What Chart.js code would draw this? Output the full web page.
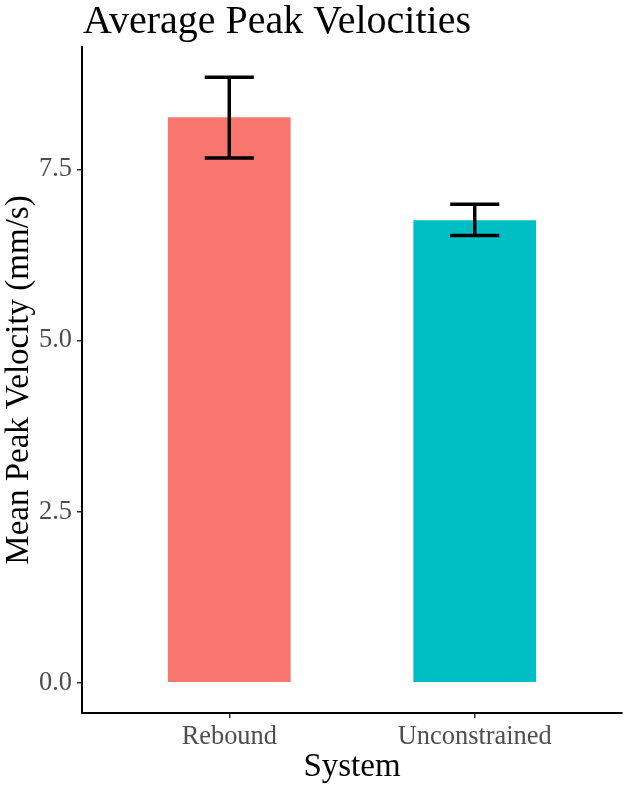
<!DOCTYPE html>
<html>
<head>
<meta charset="utf-8">
<script src="https://cdn.jsdelivr.net/npm/chart.js@4"></script>
<style>
  html, body { margin: 0; padding: 0; background: #fff; }
  #wrap { width: 625px; height: 788px; }
</style>
</head>
<body>
<div id="wrap"><canvas id="velocity-chart" width="625" height="788"></canvas></div>
<script>
const systems = ['Rebound', 'Unconstrained'];
const meanVelocity = [8.26, 6.755];
const errLower = [7.665, 6.535];
const errUpper = [8.845, 6.99];
const yTicks = [0, 2.5, 5, 7.5];
const barColors = ['#F8766D', '#00BFC4'];

const serif = '"Liberation Serif", "Times New Roman", serif';

// ggplot style expansion: 5% on y, 0.6 units on discrete x
const yMax = Math.max(...errUpper);
const yPad = yMax * 0.05;

const errorBars = {
    id: 'errorBars',
    afterDatasetsDraw(chart) {
        const ctx = chart.ctx;
        const x = chart.scales.x;
        const y = chart.scales.y;
        ctx.save();
        ctx.strokeStyle = '#000';
        ctx.lineWidth = 3.5;
        ctx.lineCap = 'butt';
        systems.forEach((s, i) => {
            const cx = x.getPixelForValue(i + 1);
            const l = x.getPixelForValue(i + 1 - 0.1);
            const r = x.getPixelForValue(i + 1 + 0.1);
            const top = y.getPixelForValue(errUpper[i]);
            const bot = y.getPixelForValue(errLower[i]);
            ctx.beginPath();
            ctx.moveTo(cx, top); ctx.lineTo(cx, bot);
            ctx.moveTo(l, top); ctx.lineTo(r, top);
            ctx.moveTo(l, bot); ctx.lineTo(r, bot);
            ctx.stroke();
        });
        ctx.restore();
    }
};

const plotTitle = {
    id: 'plotTitle',
    afterDraw(chart) {
        const ctx = chart.ctx;
        ctx.save();
        ctx.fillStyle = '#000';
        ctx.font = '40px ' + serif;
        ctx.textBaseline = 'alphabetic';
        ctx.textAlign = 'left';
        ctx.fillText('Average Peak Velocities', chart.chartArea.left + 1, 33);
        ctx.restore();
    }
};

new Chart(document.getElementById('velocity-chart'), {
    type: 'bar',
    data: {
        datasets: [{
            data: meanVelocity.map((v, i) => ({ x: i + 1, y: v })),
            backgroundColor: barColors,
            borderWidth: 0,
            categoryPercentage: 1,
            barPercentage: 0.5
        }]
    },
    options: {
        responsive: false,
        animation: false,
        devicePixelRatio: 1,
        layout: { padding: { top: 47, right: 3, left: 0, bottom: 0 } },
        plugins: {
            legend: { display: false },
            tooltip: { enabled: false },
            title: { display: false }
        },
        scales: {
            x: {
                type: 'linear',
                offset: false,
                min: 0.4,
                max: 2.6,
                afterBuildTicks: (scale) => { scale.ticks = systems.map((s, i) => ({ value: i + 1 })); },
                afterFit: (scale) => { scale.height = 75; },
                ticks: {
                    callback: (v) => systems[v - 1],
                    font: { family: serif, size: 26.4 },
                    color: '#4D4D4D',
                    padding: 3,
                    maxRotation: 0,
                    autoSkip: false
                },
                grid: {
                    display: true,
                    offset: false,
                    drawOnChartArea: false,
                    drawTicks: true,
                    tickLength: 5,
                    color: '#333333',
                    lineWidth: 1.5
                },
                border: { display: true, color: '#000', width: 2 },
                title: {
                    display: true,
                    text: 'System',
                    font: { family: serif, size: 33 },
                    color: '#000',
                    padding: { top: 0, bottom: 1 }
                }
            },
            y: {
                min: -yPad,
                max: yMax + yPad,
                afterBuildTicks: (scale) => { scale.ticks = yTicks.map(v => ({ value: v })); },
                afterFit: (scale) => { scale.width = 82; },
                ticks: {
                    callback: (v) => v.toFixed(1),
                    font: { family: serif, size: 26.4 },
                    color: '#4D4D4D',
                    padding: 5
                },
                grid: {
                    display: true,
                    drawOnChartArea: false,
                    drawTicks: true,
                    tickLength: 5,
                    color: '#333333',
                    lineWidth: 1.5
                },
                border: { display: true, color: '#000', width: 2 },
                title: {
                    display: true,
                    text: 'Mean Peak Velocity (mm/s)',
                    font: { family: serif, size: 33 },
                    color: '#000',
                    padding: { top: 0, bottom: 0 }
                }
            }
        }
    },
    plugins: [errorBars, plotTitle]
});
</script>
</body>
</html>
